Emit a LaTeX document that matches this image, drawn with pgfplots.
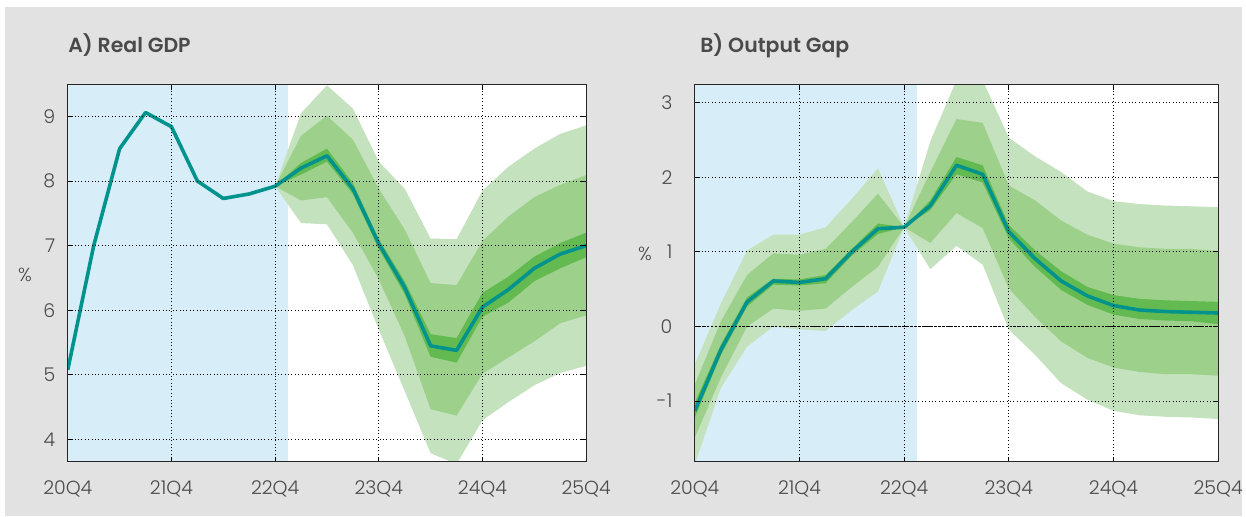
\documentclass[border=0pt]{standalone}
\usepackage{pgfplots}
\pgfplotsset{compat=1.18}
\usepackage{pgfplotstable}
\usepgfplotslibrary{fillbetween}
\usepackage{fontspec}
\setmainfont{Poppins}[UprightFont=* Light, BoldFont=* SemiBold]

\definecolor{bggray}{HTML}{E2E2E2}
\definecolor{shadeblue}{HTML}{D7EEF8}
\definecolor{teal}{HTML}{00938D}
\definecolor{glight}{HTML}{C4E2BE}
\definecolor{gmed}{HTML}{9CD08B}
\definecolor{gdark}{HTML}{62BA50}
\definecolor{txtgray}{HTML}{4A4A4A}

% Real GDP: history line
\pgfplotstableread{
x m
0 5.08
1 7.00
2 8.50
3 9.06
4 8.84
5 8.00
6 7.73
7 7.80
8 7.92
9 8.20
10 8.39
11 7.88
12 7.03
13 6.35
14 5.45
15 5.38
16 6.05
17 6.32
18 6.65
19 6.87
20 7.00
}\gdpline

% Real GDP: fan bands
\pgfplotstableread{
x l3 l2 l1 u1 u2 u3
8 7.92 7.92 7.92 7.92 7.92 7.92
9 7.35 7.70 8.10 8.28 8.70 9.05
10 7.33 7.75 8.30 8.50 9.01 9.48
11 6.70 7.20 7.80 7.97 8.64 9.12
12 5.70 6.48 6.95 7.10 7.88 8.30
13 4.75 5.60 6.25 6.45 7.25 7.88
14 3.79 4.47 5.28 5.63 6.42 7.11
15 3.62 4.37 5.19 5.57 6.39 7.10
16 4.30 5.02 5.90 6.27 7.07 7.85
17 4.58 5.27 6.12 6.52 7.45 8.22
18 4.84 5.52 6.45 6.83 7.75 8.50
19 5.03 5.80 6.65 7.04 7.94 8.73
20 5.14 5.92 6.82 7.20 8.09 8.86
}\gdpfan

% Output gap
\pgfplotstableread{
x l3 l2 l1 m u1 u2 u3
0 -1.85 -1.49 -1.22 -1.13 -1.02 -0.78 -0.51
1 -0.82 -0.68 -0.38 -0.31 -0.24 0.07 0.31
2 -0.27 0.00 0.27 0.33 0.39 0.69 1.02
3 0.00 0.24 0.56 0.61 0.64 0.98 1.23
4 -0.04 0.21 0.55 0.59 0.63 0.96 1.23
5 -0.06 0.24 0.58 0.64 0.69 1.04 1.33
6 0.22 0.53 0.95 1.00 1.04 1.40 1.71
7 0.47 0.80 1.24 1.31 1.38 1.78 2.12
8 1.33 1.33 1.33 1.33 1.33 1.33 1.33
9 0.77 1.12 1.56 1.62 1.69 2.07 2.48
10 1.08 1.52 2.04 2.16 2.27 2.78 3.30
11 0.83 1.32 1.93 2.04 2.16 2.73 3.30
12 -0.04 0.51 1.18 1.27 1.36 1.89 2.53
13 -0.38 0.13 0.80 0.91 1.02 1.69 2.28
14 -0.76 -0.20 0.49 0.61 0.74 1.42 2.07
15 -0.98 -0.42 0.29 0.41 0.53 1.23 1.81
16 -1.13 -0.55 0.16 0.28 0.42 1.11 1.68
17 -1.19 -0.61 0.10 0.22 0.37 1.06 1.64
18 -1.21 -0.64 0.08 0.20 0.35 1.04 1.62
19 -1.22 -0.64 0.07 0.19 0.34 1.04 1.61
20 -1.24 -0.66 0.03 0.18 0.33 1.01 1.60
}\gap

\tikzset{fill between/on layer=main}
\pgfplotsset{
  fanaxis/.style={
    scale only axis, height=378pt,
    xmin=0, xmax=20,
    xtick={0,4,...,20},
    xticklabels={20Q4,21Q4,22Q4,23Q4,24Q4,25Q4},
    grid=major,
    major grid style={black, line width=1pt, dash pattern=on 1pt off 2.4pt},
    axis line style={black!85, line width=1.1pt},
    tick style={black, line width=0.9pt},
    major tick length=5pt,
    tick align=inside,
    ticklabel style={font=\fontsize{19}{22}\selectfont, text=txtgray},
    xticklabel style={yshift=-16pt},
    /pgf/number format/assume math mode=true,
    axis on top,
  },
}

\begin{document}
\begin{tikzpicture}[x=1pt,y=1pt]
\fill[white] (0,0) rectangle (1246,518);
\fill[bggray] (5,0) rectangle (1246,511);
\fill[white] (68,55) rectangle (588,433);
\fill[white] (697,55) rectangle (1222,433);

\node[anchor=base west, font=\fontsize{20.5}{24}\selectfont\bfseries, text=txtgray] at (65,465) {A) Real GDP};
\node[anchor=base west, font=\fontsize{20.5}{24}\selectfont\bfseries, text=txtgray] at (699,465) {B) Output Gap};
\node[font=\fontsize{19}{22}\selectfont, text=txtgray] at (25,242) {\%};
\node[font=\fontsize{19}{22}\selectfont, text=txtgray] at (647,263) {\%};

% Panel A
\begin{axis}[fanaxis, at={(68pt,55pt)}, anchor=south west, width=520pt,
  ymin=3.66, ymax=9.49, ytick={4,5,6,7,8,9},
  yticklabel style={xshift=-9pt}]
\addplot[fill=shadeblue, draw=none] coordinates {(0,0) (8.5,0) (8.5,12) (0,12)} -- cycle;
\addplot[draw=none, name path=al3] table[x=x,y=l3] {\gdpfan};
\addplot[draw=none, name path=al2] table[x=x,y=l2] {\gdpfan};
\addplot[draw=none, name path=al1] table[x=x,y=l1] {\gdpfan};
\addplot[draw=none, name path=au1] table[x=x,y=u1] {\gdpfan};
\addplot[draw=none, name path=au2] table[x=x,y=u2] {\gdpfan};
\addplot[draw=none, name path=au3] table[x=x,y=u3] {\gdpfan};
\addplot[fill=glight, draw=none] fill between[of=al3 and au3];
\addplot[fill=gmed, draw=none] fill between[of=al2 and au2];
\addplot[fill=gdark, draw=none] fill between[of=al1 and au1];
\addplot[teal, line width=3.6pt, line join=round] table[x=x,y=m] {\gdpline};
\end{axis}

% Panel B
\begin{axis}[fanaxis, at={(697pt,55pt)}, anchor=south west, width=525pt,
  ymin=-1.81, ymax=3.24, ytick={-1,0,1,2,3},
  yticklabel style={xshift=-19pt},
  extra y ticks={0}, extra y tick labels={},
  extra y tick style={grid=major, major grid style={black, line width=1pt, dash pattern=on 2.5pt off 1.5pt}}]
\addplot[fill=shadeblue, draw=none] coordinates {(0,-5) (8.5,-5) (8.5,5) (0,5)} -- cycle;
\addplot[draw=none, name path=bl3] table[x=x,y=l3] {\gap};
\addplot[draw=none, name path=bl2] table[x=x,y=l2] {\gap};
\addplot[draw=none, name path=bl1] table[x=x,y=l1] {\gap};
\addplot[draw=none, name path=bu1] table[x=x,y=u1] {\gap};
\addplot[draw=none, name path=bu2] table[x=x,y=u2] {\gap};
\addplot[draw=none, name path=bu3] table[x=x,y=u3] {\gap};
\addplot[fill=glight, draw=none] fill between[of=bl3 and bu3];
\addplot[fill=gmed, draw=none] fill between[of=bl2 and bu2];
\addplot[fill=gdark, draw=none] fill between[of=bl1 and bu1];
\addplot[teal, line width=3.6pt, line join=round] table[x=x,y=m] {\gap};
\end{axis}
\end{tikzpicture}
\end{document}
